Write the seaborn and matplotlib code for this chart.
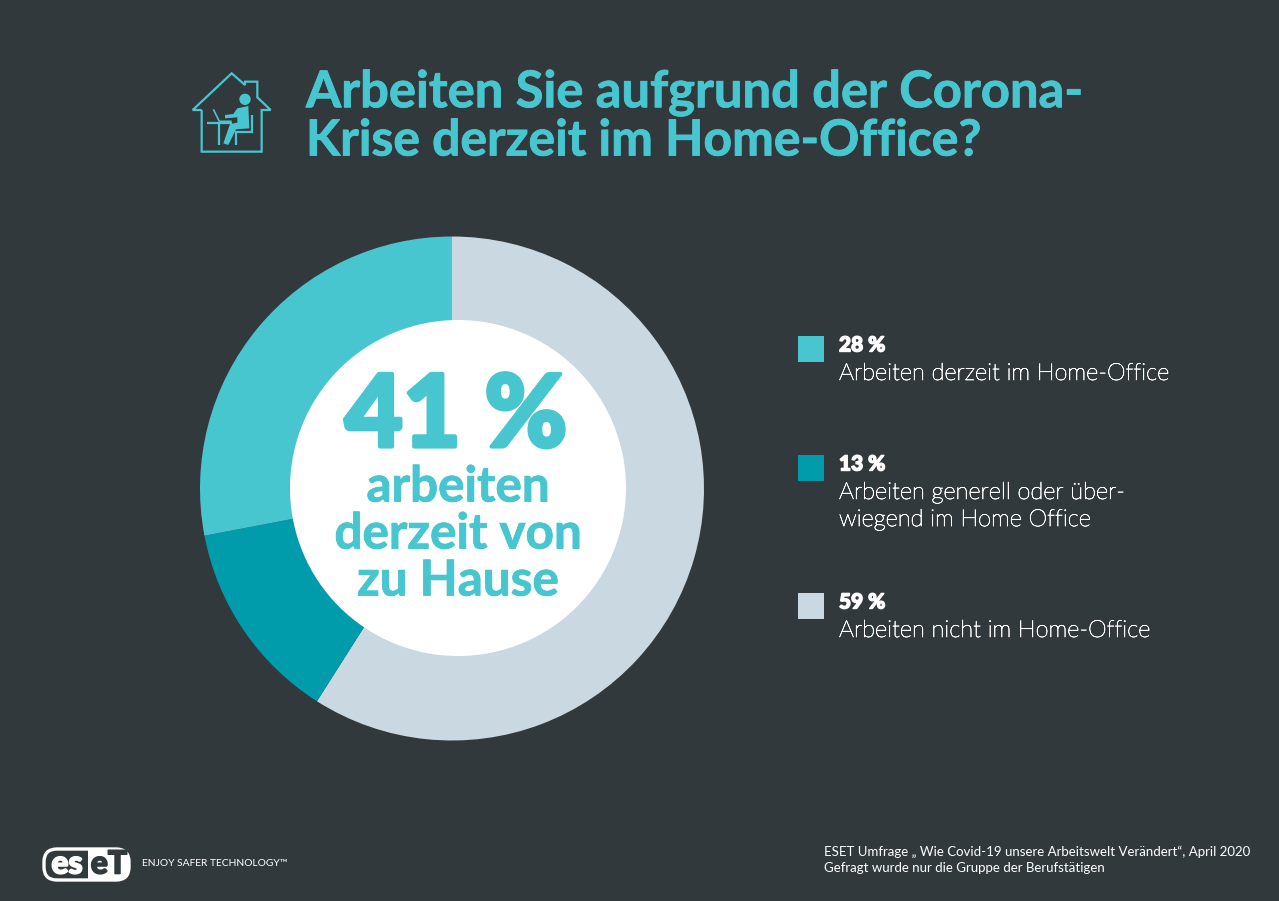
import matplotlib
matplotlib.use('Agg')
import matplotlib.pyplot as plt
import matplotlib.patheffects as pe
from matplotlib.patches import Circle, FancyBboxPatch, Polygon, Rectangle
import seaborn as sns

# Survey values
labels = ['Arbeiten nicht im Home-Office',
          'Arbeiten generell oder über-\nwiegend im Home Office',
          'Arbeiten derzeit im Home-Office']
shares = [59, 13, 28]
slice_colors = ['#cad8e1', '#009cab', '#47c6d0']

legend_order = [2, 1, 0]

BG = '#32393d'
TEAL = '#47c6d0'
W, H = 1279, 901

sns.set_theme(style='white', rc={'figure.facecolor': BG, 'axes.facecolor': BG})
plt.rcParams['font.family'] = ['Lato', 'DejaVu Sans']

fig = plt.figure(figsize=(W / 100, H / 100), dpi=100)


def heavy(color, lw):
    return [pe.withStroke(linewidth=lw, foreground=color)]


# Donut, placed in pixel coordinates
cx, cy, r = 452, 488.5, 252
ax = fig.add_axes([(cx - r) / W, 1 - (cy + r) / H, 2 * r / W, 2 * r / H])
ax.pie(shares, colors=slice_colors, startangle=90, counterclock=False, radius=1,
       wedgeprops={'linewidth': 0})
ax.set_xlim(-1, 1)
ax.set_ylim(-1, 1)
ax.set_aspect('equal')
ax.axis('off')

# Overlay in pixel coordinates for everything else
ov = fig.add_axes([0, 0, 1, 1], facecolor='none')
ov.set_xlim(0, W)
ov.set_ylim(H, 0)
ov.axis('off')

ov.add_patch(Circle((458, 488), 168, fc='white', ec='none'))

# Title
ov.text(306, 93, 'Arbeiten Sie aufgrund der Corona-', color=TEAL, fontsize=36.5,
        fontweight='bold', va='center', ha='left', path_effects=heavy(TEAL, 0.6))
ov.text(306, 141, 'Krise derzeit im Home-Office?', color=TEAL, fontsize=35.9,
        fontweight='bold', va='center', ha='left', path_effects=heavy(TEAL, 0.6))

# Centre text
ov.text(456, 418, f'{shares[2] + shares[1]} %', color=TEAL, fontsize=72, fontweight='black',
        va='center', ha='center', path_effects=heavy(TEAL, 3))
for line, y in zip(['arbeiten', 'derzeit von', 'zu Hause'], [487, 534, 581]):
    ov.text(458, y, line, color=TEAL, fontsize=35.6, fontweight='bold', va='center', ha='center',
            path_effects=heavy(TEAL, 0.6))

# Legend
legend_y = [349, 468, 606]
for i, y in zip(legend_order, legend_y):
    ov.add_patch(Rectangle((798, y - 13), 26, 26, fc=slice_colors[i], ec='none'))
    ov.text(839, y - 4, f'{shares[i]} %', color='white', fontsize=15, fontweight='black',
            va='center', ha='left', path_effects=heavy('white', 1))
    ov.text(839, y + 14, labels[i], color='white', fontsize=17, fontweight='light',
            va='top', ha='left', linespacing=1.36, path_effects=heavy('white', 0.45))

# Footer
ov.text(824, 852, 'ESET Umfrage „ Wie Covid-19 unsere Arbeitswelt Verändert“, April 2020',
        color='white', fontsize=9.5, va='center', ha='left')
ov.text(824, 868, 'Gefragt wurde nur die Gruppe der Berufstätigen',
        color='white', fontsize=9.5, va='center', ha='left')


def z(px, py):
    return 180 + px / 3, 60 + py / 3


def icon_line(pts, lw=1.6):
    xy = [z(*p) for p in pts]
    ov.plot([p[0] for p in xy], [p[1] for p in xy], color=TEAL, lw=lw,
            solid_joinstyle='miter', solid_capstyle='butt')


icon_line([(65, 150), (38, 150), (155, 40), (195, 75), (195, 65), (232, 65), (232, 112),
           (272, 150), (245, 150), (245, 275), (65, 275), (65, 150)])
icon_line([(80, 188), (155, 188)])
icon_line([(118, 188), (118, 255)])
icon_line([(100, 148), (118, 184), (155, 184)], lw=1.2)
icon_line([(215, 165), (215, 215), (167, 215), (167, 255)])
ov.add_patch(Circle(z(195, 118), 17 / 3, fc=TEAL, ec='none'))
ov.add_patch(Polygon([z(*p) for p in [(172, 145), (205, 138), (208, 205), (168, 208), (145, 255),
                                      (130, 250), (150, 192), (172, 188), (172, 172), (135, 175),
                                      (135, 165), (160, 162)]], fc=TEAL, ec='none'))

# Logo
ov.add_patch(FancyBboxPatch((44, 849), 85, 31, boxstyle='round,pad=0,rounding_size=13',
                            fc=BG, ec='white', lw=2.4))
ov.add_patch(FancyBboxPatch((88, 849), 41, 31, boxstyle='round,pad=0,rounding_size=13',
                            fc='white', ec='none'))
ov.add_patch(Rectangle((88, 849), 16, 31, fc='white', ec='none'))
ov.text(67, 864, 'es', color='white', fontsize=23, fontweight='black', va='center', ha='center',
        path_effects=heavy('white', 1.2))
ov.text(109, 864, 'eT', color=BG, fontsize=23, fontweight='black', va='center', ha='center',
        path_effects=heavy(BG, 1.2))
ov.text(142, 864, 'ENJOY SAFER TECHNOLOGY™', color='white', fontsize=7.4, va='center', ha='left')

fig.savefig('out.png', dpi=100, facecolor=BG)
